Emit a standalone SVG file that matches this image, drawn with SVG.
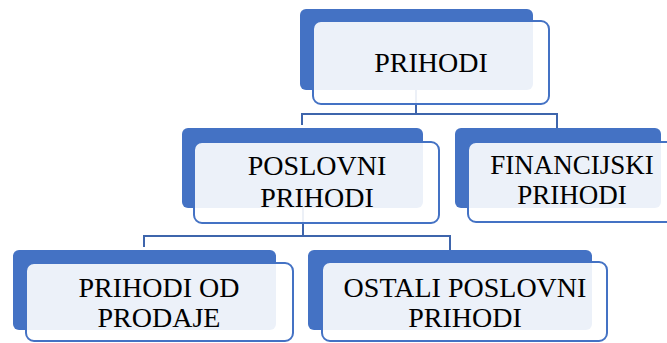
<svg xmlns="http://www.w3.org/2000/svg" width="667" height="343" viewBox="0 0 667 343">
<style>
.back{fill:#4472C4}
.front{fill:#ffffff;fill-opacity:0.9;stroke:#4472C4;stroke-width:2}
.conn{fill:none;stroke:#3E65AC;stroke-width:2}
text{font-family:"Liberation Serif","Times New Roman",serif;font-size:28px;fill:#000;text-anchor:middle}
.t27{font-size:27px}
</style>
<rect width="667" height="343" fill="#fff"/>
<g id="connectors">
<path class="conn" d="M416,90 V114 M302,125 V114 H557 V128"/>
<path class="conn" d="M303,208 V236 M144,247 V236 H450 V250"/>
</g>
<g id="prihodi">
<rect class="back" x="300" y="9" width="233" height="81" rx="6"/>
<rect class="front" x="313" y="21" width="236" height="83" rx="8"/>
<text x="431" y="72">PRIHODI</text>
</g>
<g id="poslovni">
<rect class="back" x="182" y="128" width="241" height="80" rx="6"/>
<rect class="front" x="194" y="142" width="245" height="81" rx="8"/>
<text x="317" y="175">POSLOVNI</text>
<text x="317" y="207">PRIHODI</text>
</g>
<g id="financijski">
<rect class="back" x="455" y="128" width="206" height="80" rx="6"/>
<rect class="front" x="468" y="142" width="208" height="80" rx="8"/>
<text class="t27" x="572" y="174">FINANCIJSKI</text>
<text class="t27" x="572" y="204">PRIHODI</text>
</g>
<g id="prodaja">
<rect class="back" x="13" y="250" width="263" height="80" rx="6"/>
<rect class="front" x="26" y="263" width="267" height="78" rx="8"/>
<text x="159" y="297">PRIHODI OD</text>
<text x="159" y="327">PRODAJE</text>
</g>
<g id="ostali">
<rect class="back" x="308" y="250" width="284" height="80" rx="6"/>
<rect class="front" x="322" y="262" width="285" height="79" rx="8"/>
<text x="465" y="297">OSTALI POSLOVNI</text>
<text x="465" y="327">PRIHODI</text>
</g>
</svg>
